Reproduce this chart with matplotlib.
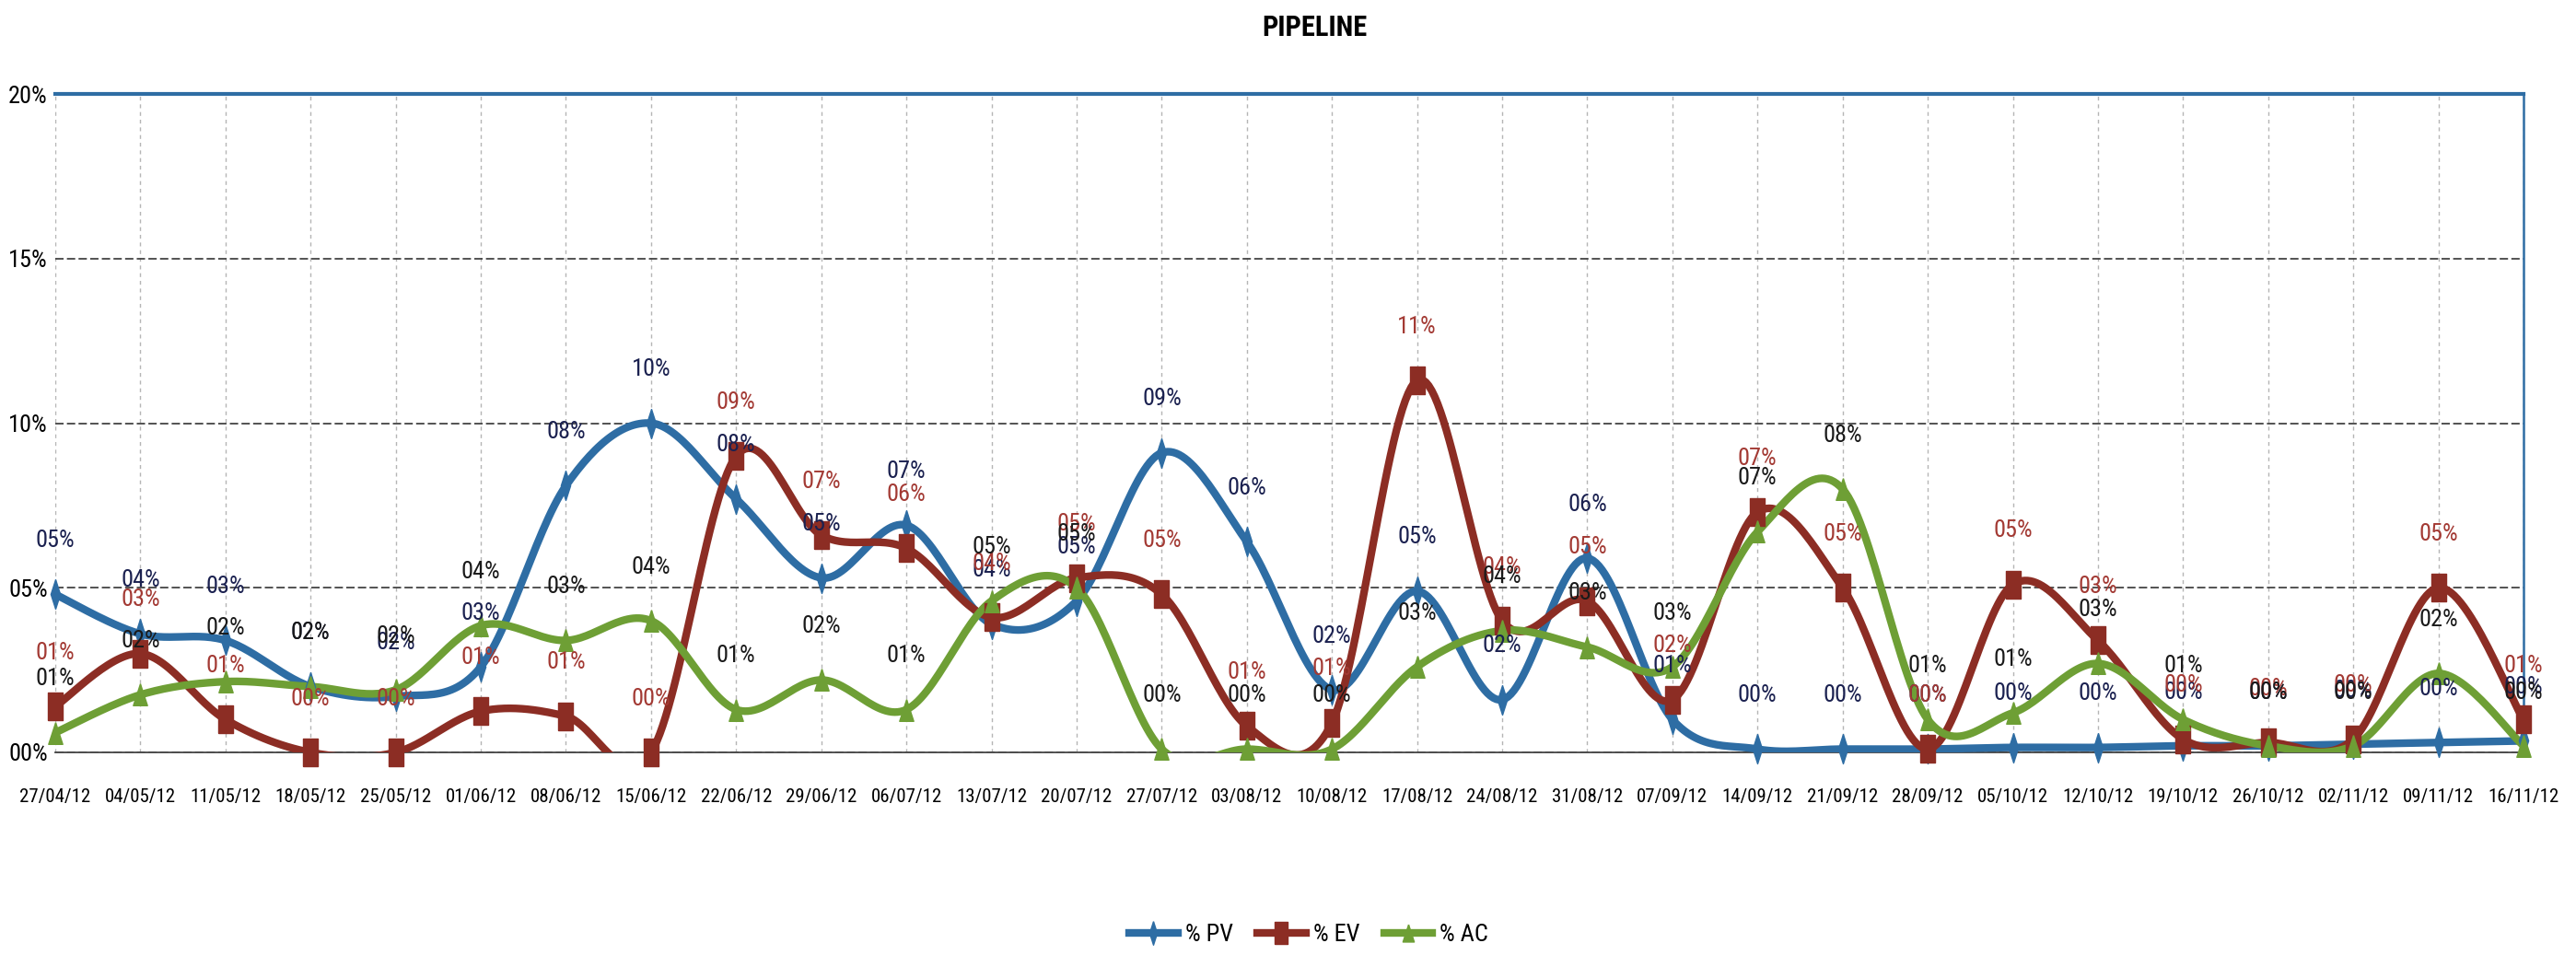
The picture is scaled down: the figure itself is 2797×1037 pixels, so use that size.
import numpy as np
import matplotlib.pyplot as plt
from matplotlib import font_manager
from matplotlib.lines import Line2D

# weekly pipeline data (values in %)
weeks = ['27/04/12', '04/05/12', '11/05/12', '18/05/12', '25/05/12', '01/06/12',
         '08/06/12', '15/06/12', '22/06/12', '29/06/12', '06/07/12', '13/07/12',
         '20/07/12', '27/07/12', '03/08/12', '10/08/12', '17/08/12', '24/08/12',
         '31/08/12', '07/09/12', '14/09/12', '21/09/12', '28/09/12', '05/10/12',
         '12/10/12', '19/10/12', '26/10/12', '02/11/12', '09/11/12', '16/11/12']
pv = [4.8, 3.6, 3.4, 2.0, 1.7, 2.6, 8.1, 10.0, 7.7, 5.3, 6.9, 3.9, 4.6, 9.1, 6.4,
      1.9, 4.9, 1.6, 5.9, 1.0, 0.1, 0.1, 0.1, 0.15, 0.15, 0.2, 0.2, 0.25, 0.3, 0.35]
ev = [1.4, 3.0, 1.0, 0.0, 0.0, 1.25, 1.1, 0.0, 9.0, 6.6, 6.2, 4.1, 5.3, 4.8, 0.8,
      0.9, 11.3, 4.0, 4.6, 1.6, 7.3, 5.0, 0.1, 5.1, 3.4, 0.4, 0.3, 0.4, 5.0, 1.0]
ac = [0.6, 1.75, 2.15, 2.0, 1.9, 3.85, 3.4, 4.0, 1.3, 2.2, 1.3, 4.6, 5.0, 0.1, 0.1,
      0.1, 2.6, 3.7, 3.2, 2.6, 6.7, 8.0, 1.0, 1.2, 2.7, 1.0, 0.2, 0.2, 2.4, 0.2]

# the chart uses a narrow font; take a condensed face if one is installed
fonts = font_manager.fontManager.ttflist
have = {f.name for f in fonts}
prefer = ['Liberation Sans Narrow', 'Roboto Condensed', 'Open Sans Condensed',
          'DejaVu Sans Condensed']
narrow = [n for n in prefer if n in have]
narrow += sorted(n for n in have if ('Narrow' in n or 'Condensed' in n) and n not in narrow)
if narrow:
    plt.rcParams['font.family'] = [narrow[0], 'DejaVu Sans']
else:
    plt.rcParams['font.family'] = ['DejaVu Sans']
    plt.rcParams['font.stretch'] = 'condensed'


def smooth(y, n=30):
    # excel-like smoothed line (bezier through the points)
    p = np.column_stack([np.arange(len(y), dtype=float), np.asarray(y, float)])
    ext = np.vstack([p[0], p, p[-1]])
    t = np.linspace(0, 1, n)[:, None]
    segs = []
    for i in range(len(p) - 1):
        a, d = ext[i + 1], ext[i + 2]
        b = a + (ext[i + 2] - ext[i]) / 6
        c = d - (ext[i + 3] - ext[i + 1]) / 6
        segs.append((1 - t) ** 3 * a + 3 * (1 - t) ** 2 * t * b + 3 * (1 - t) * t ** 2 * c + t ** 3 * d)
    pts = np.vstack(segs)
    return pts[:, 0], pts[:, 1]


pv_mk = [(0, 1), (0.32, 0), (0, -1), (-0.32, 0), (0, 1)]
ev_mk = [(-0.55, -1), (0.55, -1), (0.55, 1), (-0.55, 1), (-0.55, -1)]
ac_mk = [(0, 1), (0.65, -1), (-0.65, -1), (0, 1)]

series = [
    ('% PV', pv, '#2E6DA4', '#1B2150', pv_mk, 23),
    ('% EV', ev, '#8C2D24', '#A33A34', ev_mk, 22),
    ('% AC', ac, '#6E9F35', '#1A1A1A', ac_mk, 17),
]

fig = plt.figure(figsize=(27.97, 10.37), dpi=100)
ax = fig.add_axes([60 / 2797, 1 - 817 / 1037, 2680 / 2797, 715 / 1037])
x = np.arange(len(weeks))

handles = []
for name, vals, col, lcol, mk, ms in series:
    sx, sy = smooth(vals)
    ax.plot(sx, sy, color=col, lw=6, zorder=3, solid_capstyle='round')
    ax.plot(x, vals, ls='none', marker=mk, ms=ms, color=col, zorder=4, clip_on=False)
    handles.append(Line2D([], [], color=col, lw=6, marker=mk, ms=ms * 0.8))
    for xi, v in zip(x, vals):
        ax.annotate(f"{int(round(v)):02d}%", (xi, v), xytext=(0, 42), textcoords='offset points',
                    ha='center', va='center', fontsize=19, color=lcol, zorder=5,
                    annotation_clip=False)

ax.set_xlim(0, len(weeks) - 1)
ax.set_ylim(0, 20)
ax.set_yticks([0, 5, 10, 15, 20])
ax.set_yticklabels([f"{v:02d}%" for v in [0, 5, 10, 15, 20]], fontsize=19)
ax.set_xticks(x)
ax.set_xticklabels(weeks, fontsize=15)
ax.tick_params(axis='both', length=0)
ax.tick_params(axis='y', pad=6)
ax.tick_params(axis='x', pad=28)

ax.grid(axis='y', color='#444444', lw=1.3, ls=(0, (5, 2)), zorder=1)
ax.grid(axis='x', color='#b5b5b5', lw=1, ls=(0, (3, 3)), zorder=1)
ax.set_axisbelow(True)

ax.spines['left'].set_visible(False)
ax.spines['bottom'].set_color('#444444')
ax.spines['bottom'].set_linewidth(1.3)
ax.spines['top'].set_color('#2E6DA4')
ax.spines['top'].set_linewidth(3)
ax.spines['right'].set_color('#2E6DA4')
ax.spines['right'].set_linewidth(1.8)

fig.text(1427 / 2797, 1 - 30 / 1037, 'PIPELINE', ha='center', va='center',
         fontsize=22, fontweight='bold')

fig.legend(handles, [s[0] for s in series], loc='center', ncol=3, frameon=False,
           bbox_to_anchor=(1421 / 2797, 1 - 1015 / 1037), fontsize=19,
           handlelength=2.0, handletextpad=0.3, columnspacing=1.0)

fig.savefig('out.png', dpi=100, facecolor='white')
